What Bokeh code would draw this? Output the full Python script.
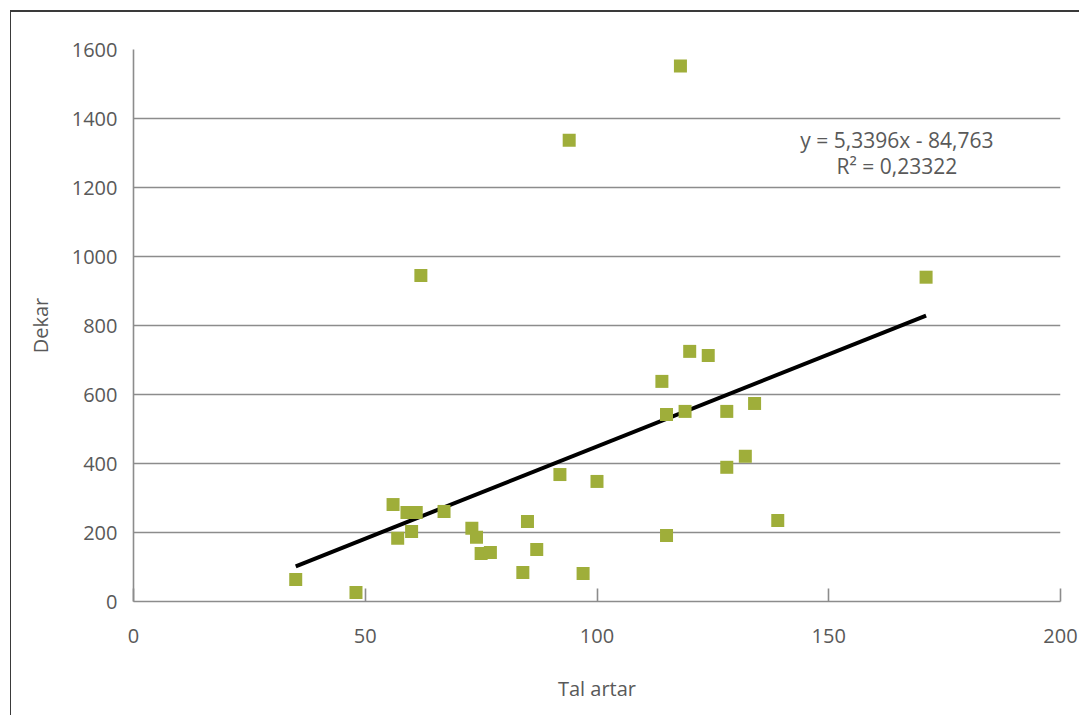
from bokeh.plotting import figure
from bokeh.models import Range1d, Label, FixedTicker
from bokeh.embed import file_html
from bokeh.resources import INLINE

# Data: number of species (x) vs area in dekar (y)
tal_artar = [35, 48, 56, 57, 59, 60, 61, 62, 67, 73, 74, 75, 77, 84, 85, 87, 92, 94,
             97, 100, 114, 115, 115, 118, 119, 120, 124, 128, 128, 132, 134, 139, 171]
dekar = [64, 26, 281, 183, 258, 203, 258, 945, 261, 212, 186, 139, 142, 84, 232, 151, 368, 1337,
         81, 348, 638, 542, 191, 1552, 551, 725, 713, 551, 389, 421, 574, 235, 940]

slope = 5.3396
intercept = -84.763
r2_text = "0,23322"
x_ticks = [0, 50, 100, 150, 200]
y_ticks = [0, 200, 400, 600, 800, 1000, 1200, 1400, 1600]

FONT = "Open Sans"
TXT = "#595959"
GRID = "#8c8c8c"

p = figure(
    frame_width=927, frame_height=552,
    min_border_left=122, min_border_top=37, min_border_right=19, min_border_bottom=114,
    x_range=Range1d(0, 200), y_range=Range1d(0, 1600),
    output_backend="svg", toolbar_location=None,
)
p.styles = {"margin-left": "10px", "margin-top": "10px",
            "border-left": "1px solid #3a3a3a", "border-top": "2px solid #3a3a3a"}
p.outline_line_color = None
p.background_fill_color = "white"
p.border_fill_color = "white"

p.xgrid.visible = False
p.ygrid.grid_line_color = GRID
p.ygrid.grid_line_width = 1.6
p.ygrid.ticker = FixedTicker(ticks=y_ticks)

p.xaxis.ticker = FixedTicker(ticks=x_ticks)
p.yaxis.ticker = FixedTicker(ticks=y_ticks)
p.xaxis.minor_tick_line_color = None
p.yaxis.minor_tick_line_color = None

for ax in (p.xaxis[0], p.yaxis[0]):
    ax.axis_line_color = GRID
    ax.axis_line_width = 1.6
    ax.major_tick_line_color = GRID
    ax.major_tick_line_width = 1.6
    ax.major_label_text_font = FONT
    ax.major_label_text_font_size = "20px"
    ax.major_label_text_color = TXT
    ax.axis_label_text_font = FONT
    ax.axis_label_text_font_size = "20px"
    ax.axis_label_text_font_style = "normal"
    ax.axis_label_text_color = TXT

p.xaxis.major_tick_in = 13
p.xaxis.major_tick_out = 0
p.xaxis.major_label_standoff = 27
p.xaxis.axis_label = "Tal artar"
p.xaxis.axis_label_standoff = 29

p.yaxis.major_tick_in = 0
p.yaxis.major_tick_out = 0
p.yaxis.major_label_standoff = 16
p.yaxis.axis_label = "Dekar"
p.yaxis.axis_label_standoff = 15

# trend line from fitted coefficients over data extent
x0, x1 = min(tal_artar), max(tal_artar)
p.line([x0, x1], [slope * x0 + intercept, slope * x1 + intercept],
       line_color="black", line_width=4)

p.scatter(tal_artar, dekar, marker="square", size=13,
          fill_color="#9fae3a", line_color=None)

eq1 = "y = " + f"{slope:.4f}".replace(".", ",") + "x - " + f"{-intercept:.3f}".replace(".", ",")
p.add_layout(Label(x=164.7, y=1337, text=eq1, text_align="center", text_baseline="middle",
                   text_font=FONT, text_font_size="21px", text_color=TXT))
p.add_layout(Label(x=164.7, y=1262, text="R² = " + r2_text, text_align="center",
                   text_baseline="middle", text_font=FONT, text_font_size="21px",
                   text_color=TXT))

open("out.html", "w").write(file_html(p, INLINE))
